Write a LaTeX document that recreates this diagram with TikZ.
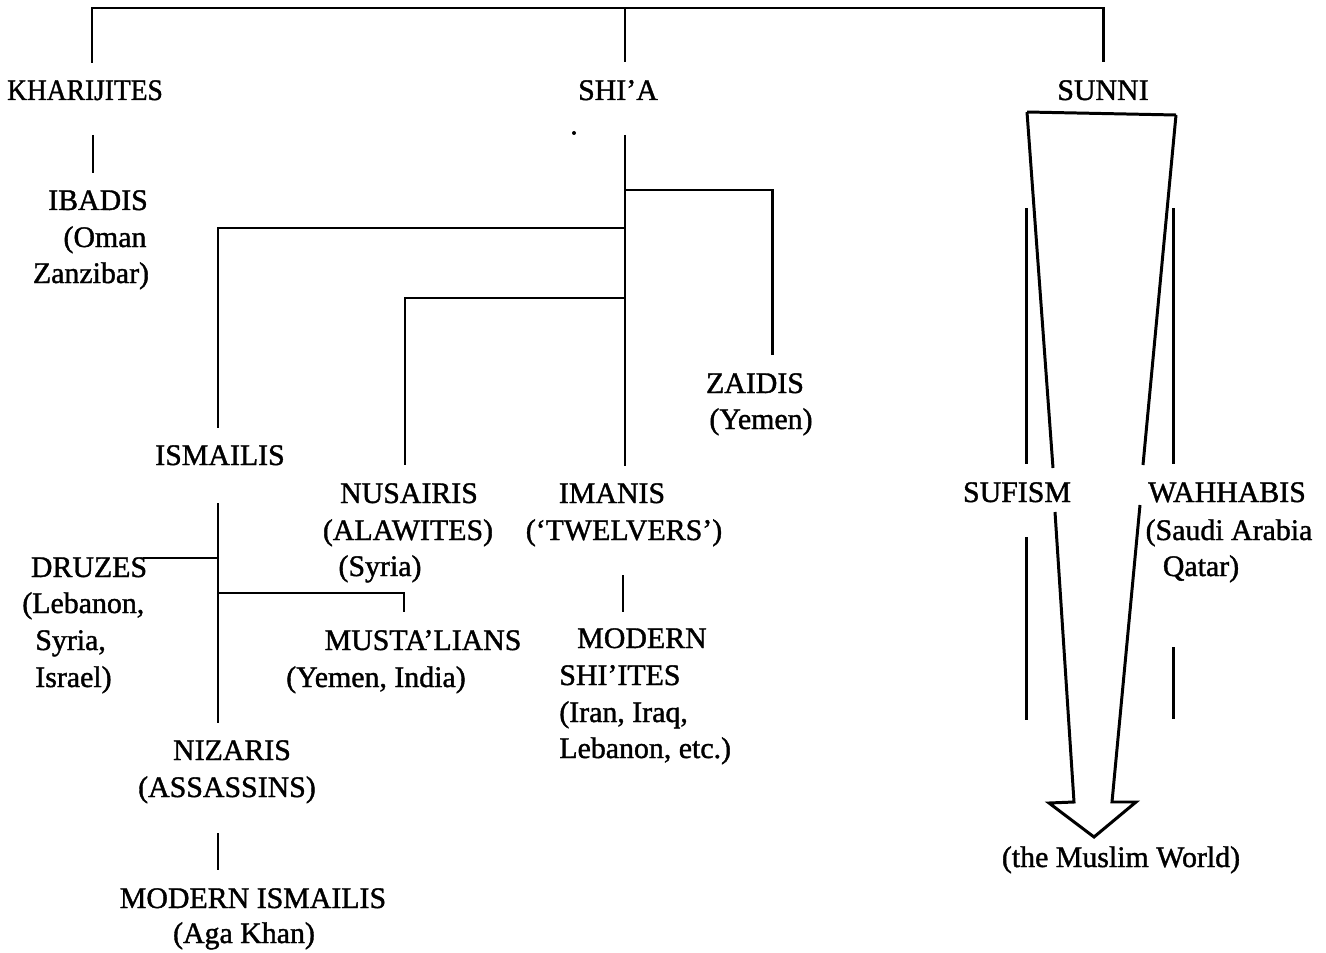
\documentclass[tikz,border=0pt]{standalone}
\usepackage{fontspec}
\setmainfont{Liberation Serif}[FakeBold=1.3]
\begin{document}
\begin{tikzpicture}[x=0.02cm,y=-0.02cm,
  lbl/.style={font=\fontsize{17}{20.8}\selectfont, inner sep=0pt, anchor=base},
  lbll/.style={lbl, anchor=base west},
  link/.style={line width=1.7pt, line cap=butt, line join=miter}]
\useasboundingbox (0,0) rectangle (1326,953);

% ---- labels ----
\node[lbl] (kharijites) at (85,100) {\scalebox{0.92}[1]{KHARIJITES}};
\node[lbl] (shia) at (618,100) {SHI’A};
\node[lbl] (sunni) at (1103,100) {SUNNI};

\node[lbl] (ibadis) at (98,210) {IBADIS};
\node[lbl] (ibadisA) at (105,247) {(Oman};
\node[lbl] (ibadisB) at (91,283) {Zanzibar)};

\node[lbl] (zaidis) at (755,393) {ZAIDIS};
\node[lbl] (zaidisA) at (761,429) {(Yemen)};

\node[lbl] (ismailis) at (220,465) {ISMAILIS};

\node[lbl] (nusairis) at (409,503) {NUSAIRIS};
\node[lbl] (nusairisA) at (408,540) {(ALAWITES)};
\node[lbl] (nusairisB) at (380,576) {(Syria)};

\node[lbl] (imanis) at (612,503) {IMANIS};
\node[lbl] (imanisA) at (624,540) {(‘TWELVERS’)};

\node[lbl] (druzes) at (89,577) {DRUZES};
\node[lbll] (druzesA) at (22,613) {(Lebanon,};
\node[lbll] (druzesB) at (35,650) {Syria,};
\node[lbll] (druzesC) at (35,687) {Israel)};

\node[lbl] (mustalians) at (423,650) {MUSTA’LIANS};
\node[lbl] (mustaliansA) at (376,687) {(Yemen, India)};

\node[lbl] (modern) at (642,648) {MODERN};
\node[lbll] (shiites) at (559,685) {SHI’ITES};
\node[lbll] (shiitesA) at (559,722) {(Iran, Iraq,};
\node[lbll] (shiitesB) at (559,758) {Lebanon, etc.)};

\node[lbl] (nizaris) at (232,760) {NIZARIS};
\node[lbl] (nizarisA) at (227,797) {(ASSASSINS)};

\node[lbl] (modismailis) at (253,908) {MODERN ISMAILIS};
\node[lbl] (modismailisA) at (244,943) {(Aga Khan)};

\node[lbl] (sufism) at (1017,502) {SUFISM};
\node[lbl] (wahhabis) at (1227,502) {WAHHABIS};
\node[lbl] (wahhabisA) at (1229,540) {(Saudi Arabia};
\node[lbl] (wahhabisB) at (1201,576) {Qatar)};

\node[lbl] (world) at (1121,867) {(the Muslim World)};

% ---- branch points and line ends ----
\coordinate (kTop) at (92,8);
\coordinate (kEnd) at (92,63);
\coordinate (sTop) at (625,8);
\coordinate (sEnd) at (625,62);
\coordinate (uTop) at (1103,8);
\coordinate (uEnd) at (1103,62);

\coordinate (ibStart) at (93,135);
\coordinate (ibEnd) at (93,173);

\coordinate (shStem) at (625,135);
\coordinate (shZ) at (625,190);
\coordinate (shI) at (625,228);
\coordinate (shN) at (625,298);
\coordinate (shEnd) at (625,466);
\coordinate (zEnd) at (772,355);
\coordinate (iEnd) at (218,428);
\coordinate (nEnd) at (405,465);

\coordinate (imStart) at (623,575);
\coordinate (imEnd) at (623,612);

\coordinate (isStem) at (218,503);
\coordinate (isD) at (218,558);
\coordinate (isM) at (218,593);
\coordinate (isEnd) at (218,723);
\coordinate (dEnd) at (143,558);
\coordinate (mEnd) at (404,612);

\coordinate (nzStart) at (218,833);
\coordinate (nzEnd) at (218,870);

% ---- main tree ----
\draw[link] (kEnd) -- (kTop) -- (uTop) -- (uEnd);
\draw[link] (sTop) -- (sEnd);
\draw[link] (ibStart) -- (ibEnd);

\draw[link] (shStem) -- (shEnd);
\draw[link] (shZ) -| (zEnd);
\draw[link] (shI) -| (iEnd);
\draw[link] (shN) -| (nEnd);
\draw[link] (imStart) -- (imEnd);

\draw[link] (isStem) -- (isEnd);
\draw[link] (isD) -- (dEnd);
\draw[link] (isM) -| (mEnd);
\draw[link] (nzStart) -- (nzEnd);

% stray dot beside SHI'A
\fill (574,133) circle (2);

% ---- Sunni: hollow arrow down to the Muslim world ----
\coordinate (aL) at (1027,112);
\coordinate (aR) at (1176,115);
\draw[link] (aL) -- (aR);
\draw[link] (aL) -- (1053,468);
\draw[link] (1055,512) -- (1074,802) -- (1049,803) -- (1094,837)
  -- (1136,802) -- (1112,802) -- (1140,505);
\draw[link] (1143,465) -- (aR);

% side bars for Sufism and Wahhabis
\draw[link] (1026,208) -- (1026,464);
\draw[link] (1026,537) -- (1026,720);
\draw[link] (1173,208) -- (1173,464);
\draw[link] (1173,647) -- (1173,719);
\end{tikzpicture}
\end{document}
